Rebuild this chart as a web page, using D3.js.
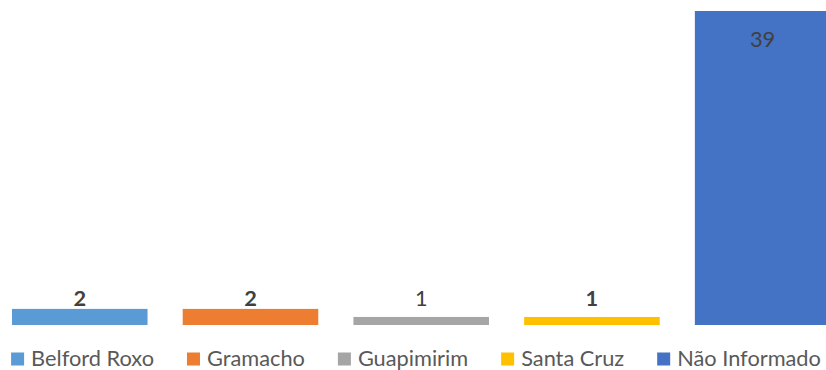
<!DOCTYPE html>
<html>
<head>
<meta charset="utf-8">
<script src="https://cdn.jsdelivr.net/npm/d3@7/dist/d3.min.js"></script>
<style>
  html, body { margin: 0; padding: 0; background: #fff; }
  svg { display: block; }
  text { font-family: Lato, "Open Sans", sans-serif; }
</style>
</head>
<body>
<svg id="chart" width="826" height="370"></svg>
<script>
const categories = ["Belford Roxo", "Gramacho", "Guapimirim", "Santa Cruz", "Não Informado"];
const values = [2, 2, 1, 1, 39];
const colors = ["#5B9BD5", "#ED7D31", "#A5A5A5", "#FFC000", "#4472C4"];
const labelBold = [true, true, false, true, false];

const W = 826, H = 370;
const svg = d3.select("#chart");

const x = d3.scaleBand()
  .domain(categories)
  .range([-5.6, 848])
  .paddingInner(0.206)
  .paddingOuter(0.103);

const y = d3.scaleLinear().domain([0, 39]).range([325, 11]);

// fit font size so legend text widths resemble the reference
const probe = svg.append("text").attr("font-size", 20).text("Belford Roxo");
const w20 = probe.node().getComputedTextLength();
probe.remove();
const fs = 20 * 123 / w20;

const data = categories.map((c, i) => ({ c, v: values[i], color: colors[i], bold: labelBold[i] }));

svg.append("g").selectAll("rect").data(data).join("rect")
  .attr("x", d => x(d.c))
  .attr("width", x.bandwidth())
  .attr("y", d => y(d.v))
  .attr("height", d => y(0) - y(d.v))
  .attr("fill", d => d.color);

svg.append("g").selectAll("text").data(data).join("text")
  .attr("x", d => x(d.c) + x.bandwidth() / 2)
  .attr("y", d => d.v > 10 ? y(d.v) + 36 : Math.min(y(d.v), y(2)) - 3)
  .attr("text-anchor", "middle")
  .attr("font-size", fs)
  .attr("font-weight", d => d.bold ? "bold" : "normal")
  .attr("fill", "#404040")
  .text(d => d.v);

// legend
const legend = svg.append("g");
const items = legend.selectAll("g").data(data).join("g");
items.append("rect")
  .attr("width", 13).attr("height", 13)
  .attr("y", 352.5)
  .attr("fill", d => d.color);
items.append("text")
  .attr("x", 20)
  .attr("y", 366)
  .attr("font-size", fs)
  .attr("fill", "#595959")
  .text(d => d.c);

const gap = 33;
const widths = [];
items.each(function() {
  widths.push(20 + d3.select(this).select("text").node().getComputedTextLength());
});
const total = d3.sum(widths) + gap * (widths.length - 1);
let cx = 416 - total / 2;
items.each(function(d, i) {
  d3.select(this).attr("transform", `translate(${cx},0)`);
  cx += widths[i] + gap;
});
</script>
</body>
</html>
